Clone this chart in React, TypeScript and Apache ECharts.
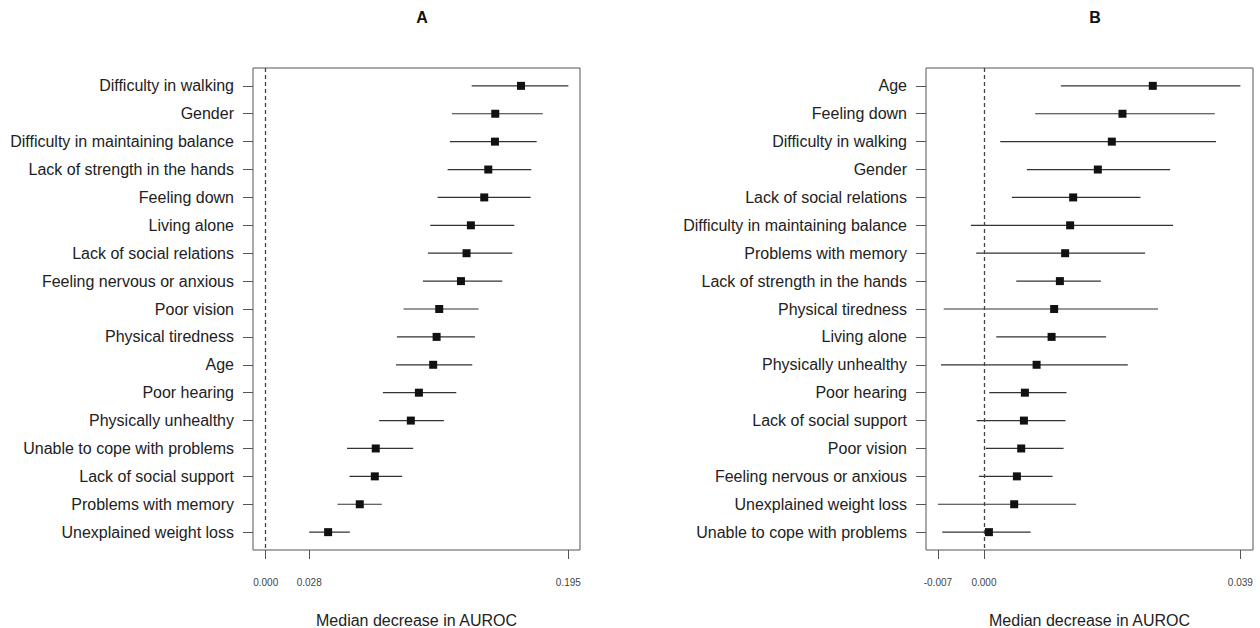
import React, { useEffect, useRef } from "react";
import * as echarts from "echarts";

const categoriesA = [
  "Difficulty in walking", "Gender", "Difficulty in maintaining balance", "Lack of strength in the hands",
  "Feeling down", "Living alone", "Lack of social relations", "Feeling nervous or anxious", "Poor vision",
  "Physical tiredness", "Age", "Poor hearing", "Physically unhealthy", "Unable to cope with problems",
  "Lack of social support", "Problems with memory", "Unexplained weight loss",
];
const medianA = [0.1645, 0.1479, 0.1477, 0.1434, 0.1408, 0.1322, 0.1294, 0.1258, 0.1118, 0.1101, 0.1079, 0.0987, 0.0935, 0.0709, 0.0703, 0.0606, 0.0402];
const lowerA = [0.1327, 0.1200, 0.1187, 0.1172, 0.1107, 0.1060, 0.1045, 0.1013, 0.0888, 0.0845, 0.0840, 0.0755, 0.0731, 0.0524, 0.0540, 0.0462, 0.028];
const upperA = [0.195, 0.1785, 0.1746, 0.1711, 0.1707, 0.1602, 0.1589, 0.1524, 0.1372, 0.1348, 0.1331, 0.1228, 0.1148, 0.0950, 0.0879, 0.0748, 0.0542];
const ticksA = [0, 0.028, 0.195];

const categoriesB = [
  "Age", "Feeling down", "Difficulty in walking", "Gender", "Lack of social relations",
  "Difficulty in maintaining balance", "Problems with memory", "Lack of strength in the hands",
  "Physical tiredness", "Living alone", "Physically unhealthy", "Poor hearing", "Lack of social support",
  "Poor vision", "Feeling nervous or anxious", "Unexplained weight loss", "Unable to cope with problems",
];
const medianB = [0.02568, 0.02107, 0.01945, 0.01732, 0.01357, 0.01311, 0.01235, 0.01155, 0.01068, 0.01029, 0.00801, 0.00623, 0.00608, 0.00567, 0.00501, 0.0046, 0.00076];
const lowerB = [0.0117, 0.00779, 0.00248, 0.00653, 0.00425, -0.00198, -0.00117, 0.00491, -0.00612, 0.00187, -0.00653, 0.00081, -0.00111, 0.00026, -0.00076, -0.007, -0.00634];
const upperB = [0.039, 0.0351, 0.03529, 0.02831, 0.02381, 0.02876, 0.02451, 0.01778, 0.02648, 0.01858, 0.02188, 0.01256, 0.01241, 0.01211, 0.01044, 0.01402, 0.0071];
const ticksB = [-0.007, 0, 0.039];

const FONT = "'Liberation Sans', Arial, sans-serif";

function buildRows(cats: string[], lo: number[], md: number[], hi: number[]) {
  return cats.map((_, i) => [i + 1, lo[i], md[i], hi[i]]);
}

const renderItem = (params: any, api: any) => {
  const row = api.value(0);
  const pLo = api.coord([api.value(1), row]);
  const pMd = api.coord([api.value(2), row]);
  const pHi = api.coord([api.value(3), row]);
  return {
    type: "group",
    children: [
      { type: "line", shape: { x1: pLo[0], y1: pLo[1], x2: pHi[0], y2: pHi[1] }, style: { stroke: "#333", lineWidth: 1.2 } },
      { type: "rect", shape: { x: pMd[0] - 4, y: pMd[1] - 4, width: 8, height: 8 }, style: { fill: "#111" } },
    ],
  };
};

export default function App() {
  const ref = useRef<HTMLDivElement>(null);
  useEffect(() => {
    const chart = echarts.init(ref.current!, null, { renderer: "svg" });
    const rows = categoriesA.map((_, i) => i + 1);
    const yAxis = (cats: string[], idx: number) => ({
      type: "value", gridIndex: idx, min: 0.36, max: 17.64, inverse: true,
      axisLine: { show: false, onZero: false }, splitLine: { show: false },
      axisTick: { show: true, customValues: rows, length: 10, lineStyle: { color: "#555" } },
      axisLabel: { customValues: rows, formatter: (v: number) => cats[Math.round(v) - 1] ?? "", fontSize: 16, color: "#222", margin: 19, fontFamily: FONT },
    });
    const xAxis = (idx: number, min: number, max: number, ticks: number[]) => ({
      type: "value", gridIndex: idx, min, max,
      axisLine: { show: false, onZero: false }, splitLine: { show: false },
      axisTick: { show: true, customValues: ticks, length: 9, lineStyle: { color: "#555" } },
      axisLabel: { customValues: ticks, formatter: (v: number) => v.toFixed(3), fontSize: 10, color: "#444", margin: 27, fontFamily: FONT },
      name: "Median decrease in AUROC", nameLocation: "middle", nameGap: 62,
      nameTextStyle: { fontSize: 16, color: "#222", fontFamily: FONT },
    });
    const dashed = (idx: number) => ({
      type: "line", xAxisIndex: idx, yAxisIndex: idx, data: [], silent: true,
      markLine: { silent: true, symbol: "none", label: { show: false }, data: [{ xAxis: 0 }], lineStyle: { type: [4, 3], color: "#444", width: 1.3 } },
    });
    const gridBase = { top: 68, width: 327, height: 482, show: true, borderColor: "#555", borderWidth: 1, backgroundColor: "transparent", containLabel: false, outerBoundsMode: "none" };
    chart.setOption({
      animation: false,
      textStyle: { fontFamily: FONT },
      title: [
        { text: "A", left: 417, top: 4, textAlign: "center", textStyle: { fontSize: 16, fontWeight: "bold", color: "#111", fontFamily: FONT } },
        { text: "B", left: 1090, top: 4, textAlign: "center", textStyle: { fontSize: 16, fontWeight: "bold", color: "#111", fontFamily: FONT } },
      ],
      grid: [
        { ...gridBase, left: 253 },
        { ...gridBase, left: 926 },
      ],
      xAxis: [xAxis(0, -0.0082, 0.2025, ticksA), xAxis(1, -0.00881, 0.04092, ticksB)],
      yAxis: [yAxis(categoriesA, 0), yAxis(categoriesB, 1)],
      series: [
        dashed(0),
        dashed(1),
        { type: "custom", xAxisIndex: 0, yAxisIndex: 0, renderItem, encode: { x: [1, 2, 3], y: 0 }, data: buildRows(categoriesA, lowerA, medianA, upperA) },
        { type: "custom", xAxisIndex: 1, yAxisIndex: 1, renderItem, encode: { x: [1, 2, 3], y: 0 }, data: buildRows(categoriesB, lowerB, medianB, upperB) },
      ],
    });
    return () => chart.dispose();
  }, []);
  return <div ref={ref} style={{ position: "fixed", left: 0, top: 0, width: 1260, height: 628, background: "#fff" }} />;
}
